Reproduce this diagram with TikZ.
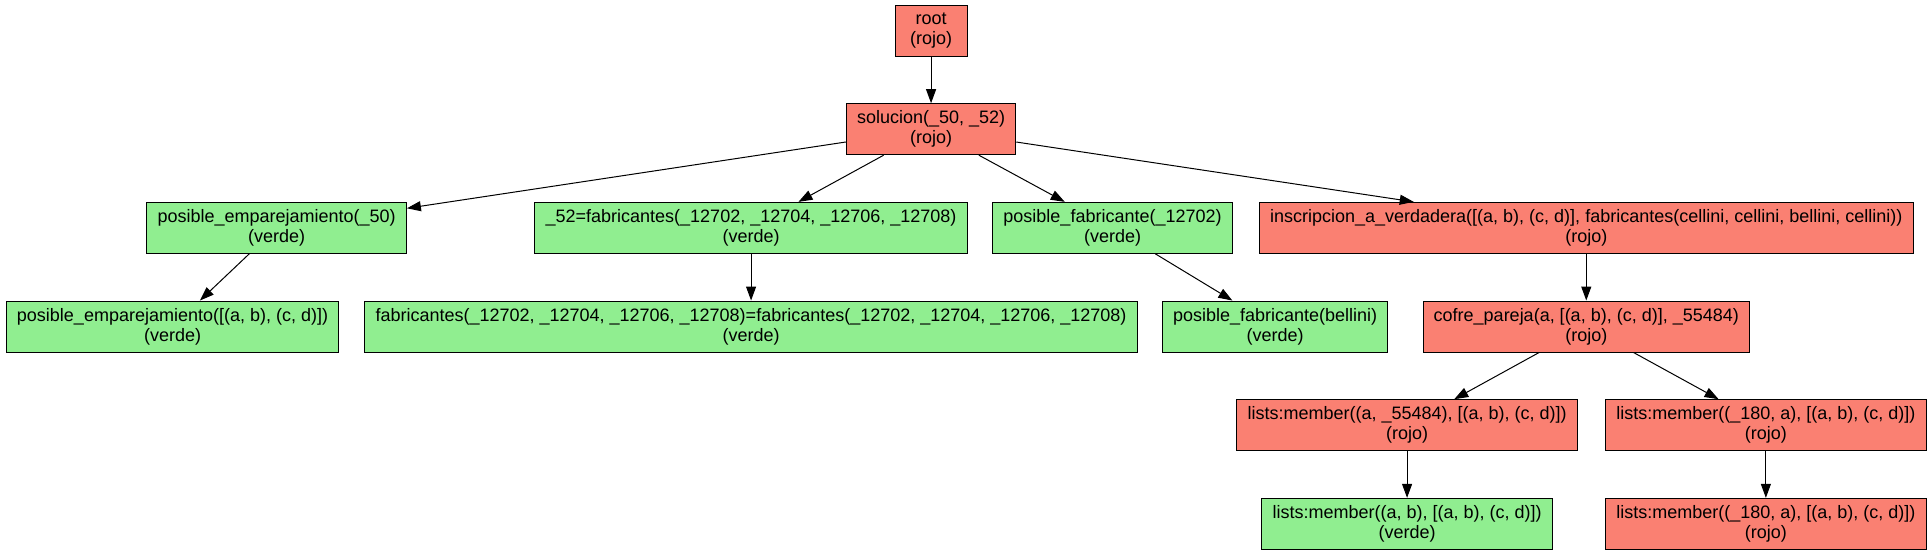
\documentclass[tikz,border=0pt]{standalone}
\usepackage{fontspec}
\setmainfont{Liberation Sans}
\usepackage{tikz}
\usetikzlibrary{arrows.meta,positioning}
\definecolor{salmon}{HTML}{FA8072}
\definecolor{lightgreen}{HTML}{90EE90}

\begin{document}
\begin{tikzpicture}[
          caja/.style={draw,rectangle,line width=.75pt,align=center,inner xsep=8pt,inner ysep=3pt,minimum width=54pt,minimum height=38.25pt,font=\fontsize{13.5}{15}\selectfont,node distance=74pt},
          rojo/.style={caja,fill=salmon},
          verde/.style={caja,fill=lightgreen},
          every edge/.style={draw,line width=.75pt,-{Triangle[length=10.5pt,width=7.5pt]}}
        ]
        \useasboundingbox (0,0) rectangle (1447.5pt,-416.25pt);

        %root
        \node[rojo] (root) at (698.3pt,-22.9pt) {root\\(rojo)};
        \node[below of = root,rojo] (sol) {solucion(\_50, \_52)\\(rojo)};

        %first level
        \node[verde] (emp) at (207.5pt,-170.9pt) {posible\_emparejamiento(\_50)\\(verde)};
        \node[verde] (fab) at (563.3pt,-170.9pt) {\_52=fabricantes(\_12702, \_12704, \_12706, \_12708)\\(verde)};
        \node[verde] (pfab) at (834.4pt,-170.9pt) {posible\_fabricante(\_12702)\\(verde)};
        \node[rojo] (insc) at (1189.7pt,-170.9pt) {inscripcion\_a\_verdadera([(a, b), (c, d)], fabricantes(cellini, cellini, bellini, cellini))\\(rojo)};

        %second level
        \node[verde] (emp2) at (129.4pt,-244.9pt) {posible\_emparejamiento([(a, b), (c, d)])\\(verde)};
        \node[below of = fab,verde] (fab2) {fabricantes(\_12702, \_12704, \_12706, \_12708)=fabricantes(\_12702, \_12704, \_12706, \_12708)\\(verde)};
        \node[verde] (pfab2) at (956.4pt,-244.9pt) {posible\_fabricante(bellini)\\(verde)};
        \node[below of = insc,rojo] (cofre) {cofre\_pareja(a, [(a, b), (c, d)], \_55484)\\(rojo)};

        %members
        \node[rojo] (mem1) at (1055.3pt,-318.9pt) {lists:member((a, \_55484), [(a, b), (c, d)])\\(rojo)};
        \node[rojo] (mem2) at (1324.4pt,-318.9pt) {lists:member((\_180, a), [(a, b), (c, d)])\\(rojo)};
        \node[below of = mem1,verde] (mem3) {lists:member((a, b), [(a, b), (c, d)])\\(verde)};
        \node[below of = mem2,rojo] (mem4) {lists:member((\_180, a), [(a, b), (c, d)])\\(rojo)};

        \path
        (root) edge (sol)
        (sol) edge (emp)
        (sol) edge (fab)
        (sol) edge (pfab)
        (sol) edge (insc)
        (emp) edge (emp2)
        (fab) edge (fab2)
        (pfab) edge (pfab2)
        (insc) edge (cofre)
        (cofre) edge (mem1)
        (cofre) edge (mem2)
        (mem1) edge (mem3)
        (mem2) edge (mem4)
        ;
    \end{tikzpicture}
\end{document}
